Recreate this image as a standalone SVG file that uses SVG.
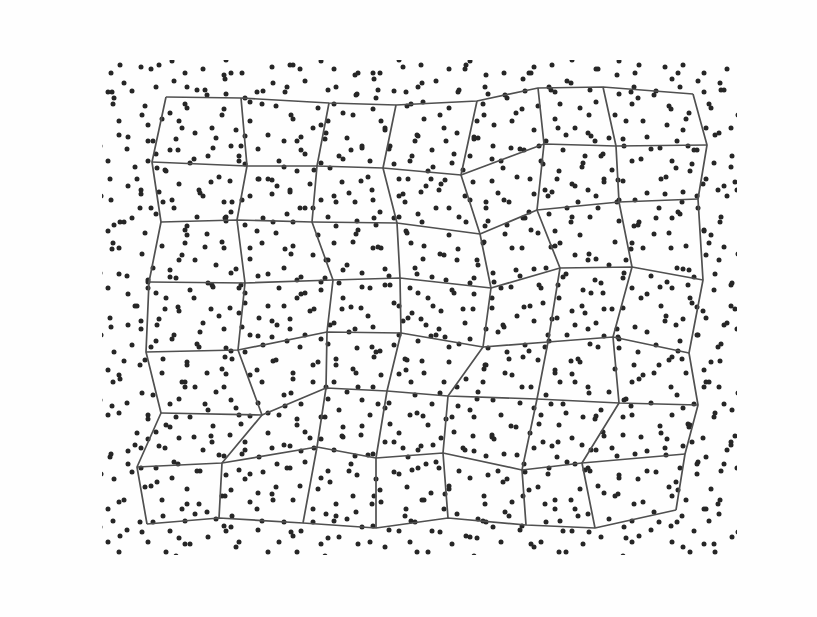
<svg xmlns="http://www.w3.org/2000/svg" width="817" height="617" viewBox="0 0 817 617">
<style>
.d{fill:#262626}
.d circle{r:2.5px}
.g{fill:none;stroke:#505050;stroke-width:1.7;stroke-linejoin:round}
</style>
<defs>
<pattern id="pA" patternUnits="userSpaceOnUse" x="104" y="61" width="131" height="127">
<g class="d">
<circle cx="7" cy="12" r="2.5"/><circle cx="23" cy="88" r="2.5"/><circle cx="41" cy="45" r="2.5"/><circle cx="55" cy="4" r="2.5"/><circle cx="62" cy="110" r="2.5"/><circle cx="78" cy="67" r="2.5"/><circle cx="93" cy="29" r="2.5"/><circle cx="104" cy="95" r="2.5"/><circle cx="118" cy="54" r="2.5"/><circle cx="126" cy="120" r="2.5"/><circle cx="15" cy="60" r="2.5"/><circle cx="33" cy="118" r="2.5"/><circle cx="49" cy="80" r="2.5"/><circle cx="70" cy="20" r="2.5"/><circle cx="86" cy="102" r="2.5"/><circle cx="99" cy="8" r="2.5"/><circle cx="112" cy="77" r="2.5"/><circle cx="122" cy="33" r="2.5"/><circle cx="4" cy="100" r="2.5"/><circle cx="28" cy="30" r="2.5"/><circle cx="58" cy="58" r="2.5"/><circle cx="66" cy="89" r="2.5"/><circle cx="83" cy="47" r="2.5"/><circle cx="107" cy="121" r="2.5"/><circle cx="120" cy="14" r="2.5"/><circle cx="44" cy="100" r="2.5"/><circle cx="10" cy="37" r="2.5"/><circle cx="91" cy="72" r="2.5"/><circle cx="75" cy="123" r="2.5"/><circle cx="37" cy="6" r="2.5"/><circle cx="127" cy="85" r="2.5"/><circle cx="52" cy="26" r="2.5"/>
</g>
</pattern>
<pattern id="pB" patternUnits="userSpaceOnUse" x="160" y="100" width="149" height="139">
<g class="d">
<circle cx="5" cy="70" r="2.5"/><circle cx="19" cy="21" r="2.5"/><circle cx="27" cy="126" r="2.5"/><circle cx="40" cy="93" r="2.5"/><circle cx="53" cy="48" r="2.5"/><circle cx="64" cy="9" r="2.5"/><circle cx="71" cy="112" r="2.5"/><circle cx="85" cy="64" r="2.5"/><circle cx="97" cy="131" r="2.5"/><circle cx="108" cy="35" r="2.5"/><circle cx="117" cy="86" r="2.5"/><circle cx="131" cy="15" r="2.5"/><circle cx="140" cy="108" r="2.5"/><circle cx="145" cy="54" r="2.5"/><circle cx="12" cy="100" r="2.5"/><circle cx="34" cy="59" r="2.5"/><circle cx="47" cy="134" r="2.5"/><circle cx="59" cy="77" r="2.5"/><circle cx="76" cy="30" r="2.5"/><circle cx="90" cy="96" r="2.5"/><circle cx="102" cy="4" r="2.5"/><circle cx="113" cy="122" r="2.5"/><circle cx="124" cy="67" r="2.5"/><circle cx="137" cy="41" r="2.5"/><circle cx="25" cy="4" r="2.5"/><circle cx="81" cy="46" r="2.5"/><circle cx="65" cy="118" r="2.5"/><circle cx="99" cy="79" r="2.5"/><circle cx="16" cy="39" r="2.5"/><circle cx="130" cy="90" r="2.5"/>
</g>
</pattern>
<pattern id="pC" patternUnits="userSpaceOnUse" x="90" y="40" width="173" height="157">
<g class="d">
<circle cx="9" cy="140" r="2.5"/><circle cx="22" cy="52" r="2.5"/><circle cx="38" cy="97" r="2.5"/><circle cx="50" cy="11" r="2.5"/><circle cx="67" cy="128" r="2.5"/><circle cx="80" cy="73" r="2.5"/><circle cx="95" cy="33" r="2.5"/><circle cx="109" cy="150" r="2.5"/><circle cx="122" cy="88" r="2.5"/><circle cx="136" cy="20" r="2.5"/><circle cx="149" cy="116" r="2.5"/><circle cx="160" cy="62" r="2.5"/><circle cx="168" cy="139" r="2.5"/><circle cx="30" cy="25" r="2.5"/><circle cx="58" cy="85" r="2.5"/><circle cx="88" cy="110" r="2.5"/><circle cx="115" cy="50" r="2.5"/><circle cx="142" cy="5" r="2.5"/><circle cx="155" cy="96" r="2.5"/><circle cx="73" cy="5" r="2.5"/>
</g>
</pattern>
</defs>
<rect width="817" height="617" fill="#fefefe"/>
<g id="points">
<rect x="102" y="60" width="635" height="495" fill="url(#pA)"/>
<rect x="102" y="60" width="635" height="495" fill="url(#pB)"/>
<rect x="102" y="60" width="635" height="495" fill="url(#pC)"/>
</g>
<g id="grid">
<g id="rows">
<polyline class="g" points="166,97 241,98 329,103 396,105 477,101 538,88 603,87 693,94"/>
<polyline class="g" points="152,162 247,166 317,166 383,168 461,175 544,144 616,146 707,145"/>
<polyline class="g" points="161,222 237,220 312,222 397,223 480,234 537,210 619,202 698,199"/>
<polyline class="g" points="149,282 245,283 333,280 400,278 491,288 560,268 632,267 703,280"/>
<polyline class="g" points="146,352 238,350 327,332 401,333 483,347 548,342 613,337 689,353"/>
<polyline class="g" points="161,413 262,415 326,388 387,391 448,396 537,399 619,403 698,405"/>
<polyline class="g" points="137,467 222,463 317,447 376,458 443,453 522,470 582,463 685,454"/>
<polyline class="g" points="147,524 219,518 303,523 376,528 448,518 526,525 595,528 676,510"/>
</g>
<g id="columns">
<polyline class="g" points="166,97 152,162 161,222 149,282 146,352 161,413 137,467 147,524"/>
<polyline class="g" points="241,98 247,166 237,220 245,283 238,350 262,415 222,463 219,518"/>
<polyline class="g" points="329,103 317,166 312,222 333,280 327,332 326,388 317,447 303,523"/>
<polyline class="g" points="396,105 383,168 397,223 400,278 401,333 387,391 376,458 376,528"/>
<polyline class="g" points="477,101 461,175 480,234 491,288 483,347 448,396 443,453 448,518"/>
<polyline class="g" points="538,88 544,144 537,210 560,268 548,342 537,399 522,470 526,525"/>
<polyline class="g" points="603,87 616,146 619,202 632,267 613,337 619,403 582,463 595,528"/>
<polyline class="g" points="693,94 707,145 698,199 703,280 689,353 698,405 685,454 676,510"/>
</g>
</g>
</svg>
